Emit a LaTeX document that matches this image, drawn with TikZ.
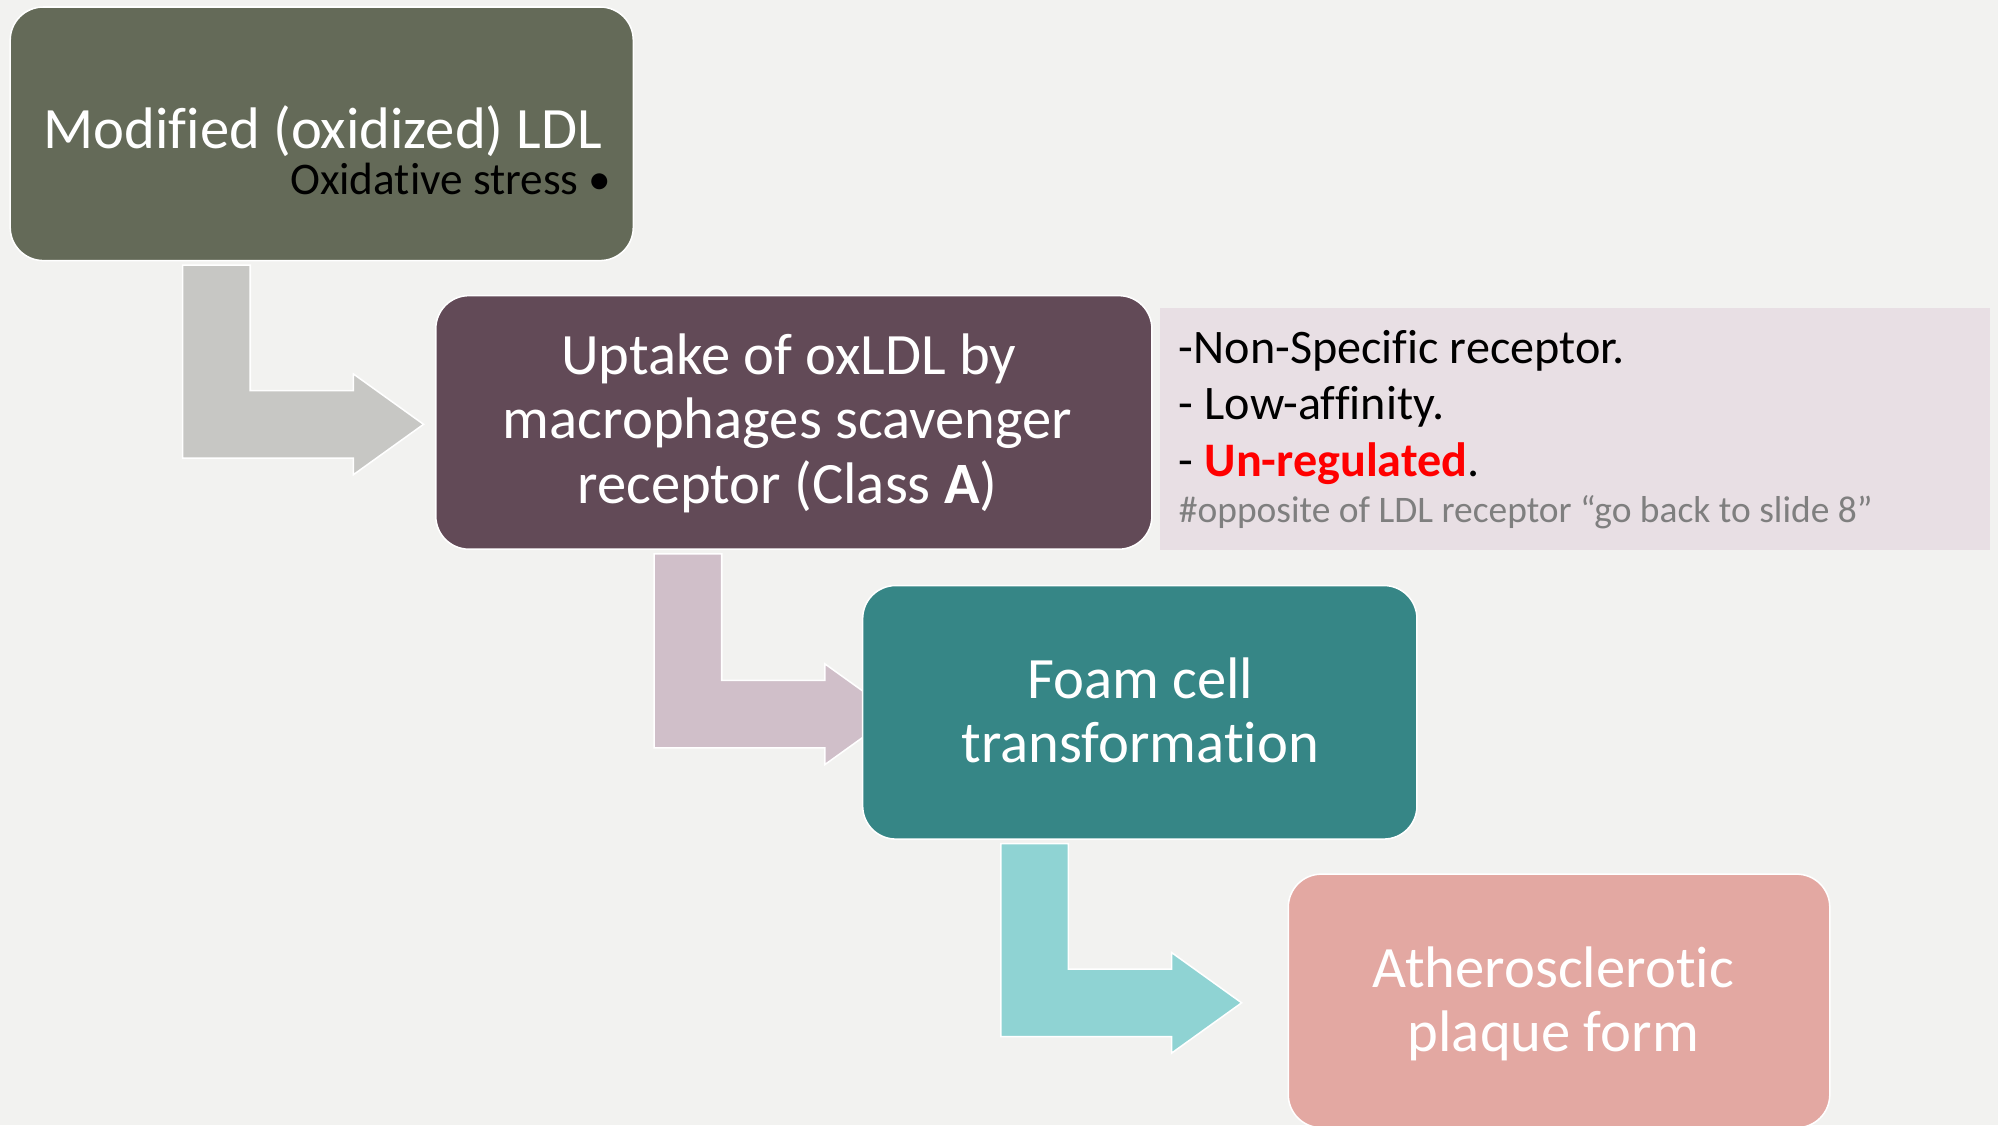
\documentclass[tikz,border=0pt]{standalone}
\usepackage{fontspec}
\setmainfont{Carlito}[Ligatures={NoCommon}]
\usetikzlibrary{calc}

\definecolor{pagebg}{HTML}{F2F2F0}
\definecolor{olive}{HTML}{646A58}
\definecolor{plum}{HTML}{624A57}
\definecolor{teal}{HTML}{368686}
\definecolor{rose}{HTML}{E3A8A2}
\definecolor{notebg}{HTML}{E8DFE4}
\definecolor{arrowgray}{HTML}{C7C7C4}
\definecolor{arrowplum}{HTML}{D0BFC9}
\definecolor{arrowteal}{HTML}{8FD3D3}
\definecolor{hintgray}{HTML}{7F7F7F}

\pgfdeclarelayer{canvas}
\pgfdeclarelayer{behind}
\pgfsetlayers{canvas,behind,main}

\tikzset{
  stagebox/.style={draw=white, line width=1.2pt, rounded corners=26pt,
    inner sep=0pt, minimum height=199pt},
  stagetext/.style={text=white, anchor=base, inner sep=0pt,
    font=\fontsize{46}{50}\selectfont},
  notetext/.style={anchor=base west, inner sep=0pt,
    font=\fontsize{37.8}{44}\selectfont},
  bentarrow/.style={draw=white, line width=1.2pt},
}

% Bent arrow: a stem that drops from the bottom of one box and turns right
% towards the next one.
% #1 fill colour, #2 box above, #3 box to the right,
% #4 stem offset from the left side of #2, #5 gap between tip and #3
\newcommand\bentarrow[5]{%
  \path[bentarrow, fill=#1]
    let \p1=($(#2.south west)+(#4,3)$), \p2=($(#3.west)+(-#5,1.5)$) in
    (\x1,\y1) -- (\x1+53pt,\y1) -- (\x1+53pt,\y2+26.5pt)
    -- (\x2-55pt,\y2+26.5pt) -- (\x2-55pt,\y2+39.5pt) -- (\x2,\y2)
    -- (\x2-55pt,\y2-39.5pt) -- (\x2-55pt,\y2-26.5pt)
    -- (\x1,\y2-26.5pt) -- cycle;
}

\begin{document}
\begin{tikzpicture}[x=1pt,y=-1pt]
\begin{pgfonlayer}{canvas}
  \fill[pagebg] (0,0) rectangle (1568,883);
\end{pgfonlayer}
\useasboundingbox (0,0) rectangle (1568,883);

% stage boxes
\node[stagebox, fill=olive, minimum width=489pt] (b1) at (252.5,105) {};
\node[stagebox, fill=plum,  minimum width=562pt] (b2) at (623,331.5) {};
\node[stagebox, fill=teal,  minimum width=435pt] (b3) at (894.5,559) {};
\node[stagebox, fill=rose,  minimum width=425pt] (b4) at (1223.5,785.5) {};

% side note
\node[fill=notebg, inner sep=0pt, minimum width=652pt, minimum height=190pt]
  (note) at (1236,337) {};

% texts
\node[stagetext] (t1) at (253.5,116.5) {Modified (oxidized) LDL};
\node[anchor=base east, inner sep=0pt, font=\fontsize{35.5}{40}\selectfont]
  (t1b) at (480,153) {Oxidative stress •};

\node[stagetext] (t2a) at (619,294) {Uptake of oxLDL by};
\node[stagetext] (t2b) at (618,344) {macrophages scavenger};
\node[stagetext] (t2c) at (618,395) {receptor (Class \textbf{A})};

\node[stagetext] (t3a) at (895,548) {Foam cell};
\node[stagetext] (t3b) at (895,598) {transformation};

\node[stagetext] (t4a) at (1219,775) {Atherosclerotic};
\node[stagetext] (t4b) at (1219,825) {plaque form};

\node[notetext] (n1) at (925,285) {-Non-Specific receptor.};
\node[notetext] (n2) at (925,329) {- Low-affinity.};
\node[notetext] (n3) at (925,374) {- \textcolor{red}{\textbf{Un-regulated}}.};
\node[anchor=base west, inner sep=0pt, text=hintgray,
  font=\fontsize{29.4}{34}\selectfont]
  (n4) at (925,410) {\#opposite of LDL receptor “go back to slide 8”};

% connectors
\begin{pgfonlayer}{behind}
  \bentarrow{arrowgray}{b1}{b2}{136}{9}
  \bentarrow{arrowplum}{b2}{b3}{172}{-26}
  \bentarrow{arrowteal}{b3}{b4}{109}{36}
\end{pgfonlayer}
\end{tikzpicture}
\end{document}
